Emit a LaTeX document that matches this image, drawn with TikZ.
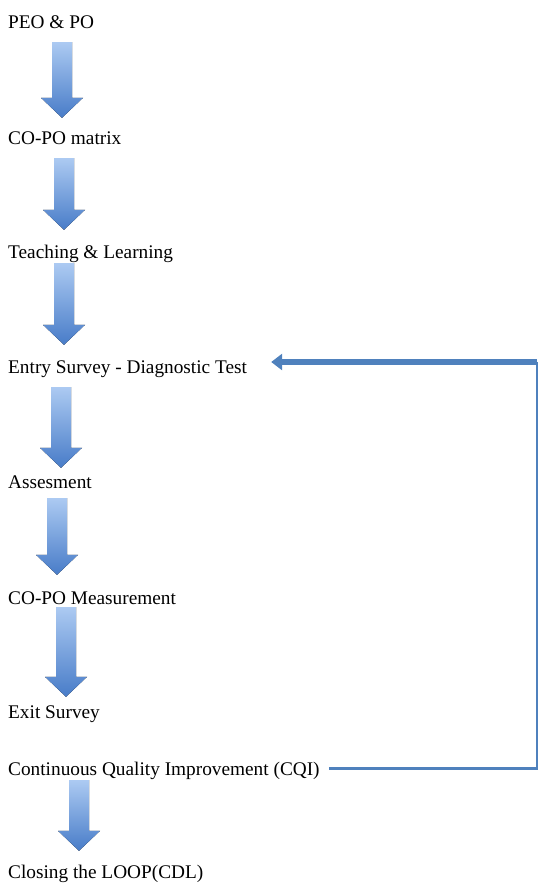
\documentclass[tikz,border=0pt]{standalone}
\usepackage{fontspec}
\setmainfont{Liberation Serif}
\usetikzlibrary{calc,arrows.meta}
\definecolor{arrowlight}{RGB}{172,202,242}
\definecolor{arrowdark}{RGB}{72,124,200}
\definecolor{loopblue}{RGB}{79,129,189}

\begin{document}
\begin{tikzpicture}[x=1pt,y=-1pt,
    stagelabel/.style={anchor=base west, inner sep=0pt, text height=14pt, text depth=5pt, font=\fontsize{19.3}{23}\selectfont},
    blockarrow/.style={top color=arrowlight, bottom color=arrowdark},
    loopline/.style={draw=loopblue, line width=2.5pt},
    looparrow/.style={draw=loopblue, line width=6pt, -{Triangle[width=16pt,length=11pt]}}]
    \useasboundingbox (0,0) rectangle (539,891);

    % stages
    \node[stagelabel] (peo)   at (8,29)  {PEO \& PO};
    \node[stagelabel] (copo)  at (8,144) {CO-PO matrix};
    \node[stagelabel] (teach) at (8,258) {Teaching \& Learning};
    \node[stagelabel] (entry) at (8,373) {Entry Survey - Diagnostic Test};
    \node[stagelabel] (asses) at (8,488) {Assesment};
    \node[stagelabel] (meas)  at (8,604) {CO-PO Measurement};
    \node[stagelabel] (exit)  at (8,718) {Exit Survey};
    \node[stagelabel] (cqi)   at (8,775) {Continuous Quality Improvement (CQI)};
    \node[stagelabel] (cdl)   at (8,878) {Closing the LOOP(CDL)};

    % block arrows between stages
    \foreach \a/\b/\xc/\gt/\gb in {peo/copo/62/8/12, copo/teach/64/9/14, teach/entry/64/0/14,
        entry/asses/61/9/6, asses/meas/57/5/15, meas/exit/66/-2/7, cqi/cdl/79/0/13} {
        \coordinate (t) at ($(\a.south)+(0,\gt)$);
        \coordinate (p) at ($(\b.north)+(0,-\gb)$);
        \coordinate (h) at ($(p)+(0,-20)$);
        \fill[blockarrow] (\xc-10,0 |- t) -- (\xc+10,0 |- t) -- (\xc+10,0 |- h) -- (\xc+21,0 |- h)
            -- (\xc,0 |- p) -- (\xc-21,0 |- h) -- (\xc-10,0 |- h) -- cycle;
    }

    % feedback loop
    \coordinate (looptop) at (537,362);
    \draw[loopline] ($(cqi.east)+(9,-2)$) -| (looptop);
    \draw[looparrow] (looptop) -- ($(entry.east)+(24,-6.5)$);
\end{tikzpicture}
\end{document}
